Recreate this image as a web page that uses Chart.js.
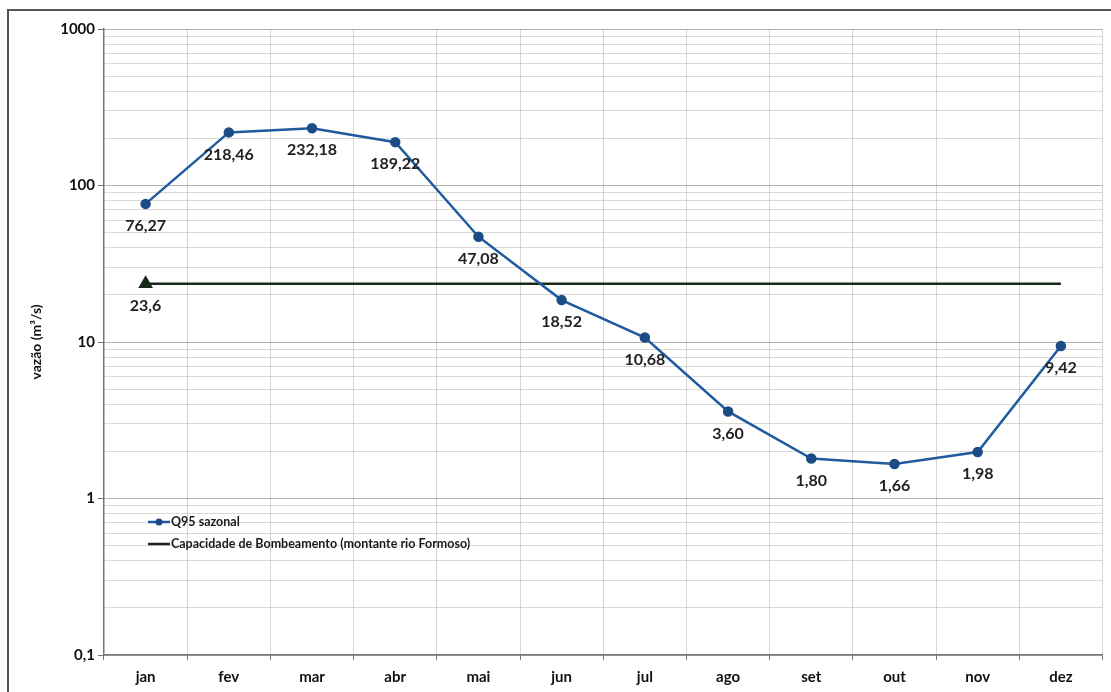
<!DOCTYPE html>
<html>
<head>
<meta charset="utf-8">
<script src="https://cdn.jsdelivr.net/npm/chart.js@4/dist/chart.umd.min.js"></script>
<style>
  html, body { margin: 0; padding: 0; background: #fff; overflow: hidden; }
  #wrap { position: relative; width: 1111px; height: 692px; overflow: hidden; }
  #frame { position: absolute; left: 7px; top: 9px; width: 1200px; height: 800px;
           border: 2px solid #555; box-sizing: border-box; }
  canvas { position: absolute; left: 0; top: 0; }
</style>
</head>
<body>
<div id="wrap">
  <div id="frame"></div>
  <canvas id="chart" width="1111" height="692"></canvas>
</div>
<script>
// Meses
const months = ['jan', 'fev', 'mar', 'abr', 'mai', 'jun', 'jul', 'ago', 'set', 'out', 'nov', 'dez'];

// Q95 sazonal (m³/s)
const q95 = [76.27, 218.46, 232.18, 189.22, 47.08, 18.52, 10.68, 3.60, 1.80, 1.66, 1.98, 9.42];

// Capacidade de bombeamento (montante rio Formoso), m³/s
const capacidade = [23.6, 23.6, 23.6, 23.6, 23.6, 23.6, 23.6, 23.6, 23.6, 23.6, 23.6, 23.6];

// Eixo Y (logarítmico)
const yTickValues = [0.1, 1, 10, 100, 1000];
const yTickLabels = ['0,1', '1', '10', '100', '1000'];

const FONT = 'Lato, "Open Sans", "DejaVu Sans", sans-serif';
const BLUE = '#1f5b9e';
const BLUE_DARK = '#1b4c86';
const BLACK = '#1a2a1a';

const isDecade = v => Math.abs(Math.log10(v) - Math.round(Math.log10(v))) < 1e-9;

// rótulos de valor abaixo dos pontos
const valueLabels = {
  id: 'valueLabels',
  afterDatasetsDraw(chart) {
    const ctx = chart.ctx;
    ctx.save();
    ctx.font = 'bold 16px ' + FONT;
    ctx.fillStyle = '#222';
    ctx.textAlign = 'center';
    ctx.textBaseline = 'middle';
    chart.data.datasets.forEach((ds, di) => {
      const meta = chart.getDatasetMeta(di);
      meta.data.forEach((pt, i) => {
        if (ds.labelIndices && !ds.labelIndices.includes(i)) return;
        const txt = ds.data[i].toFixed(ds.decimals).replace('.', ',');
        ctx.fillText(txt, pt.x, pt.y + 22);
      });
    });
    ctx.restore();
  }
};

// legenda dentro da área do gráfico
const innerLegend = {
  id: 'innerLegend',
  afterDraw(chart) {
    const ctx = chart.ctx;
    const x0 = 148, x1 = 170, tx = 171;
    const rows = [522, 544];
    ctx.save();
    ctx.font = 'bold 12.5px ' + FONT;
    ctx.textBaseline = 'middle';
    ctx.textAlign = 'left';
    chart.data.datasets.forEach((ds, i) => {
      const y = rows[i];
      ctx.strokeStyle = ds.borderColor;
      ctx.lineWidth = 2.5;
      ctx.beginPath(); ctx.moveTo(x0, y); ctx.lineTo(x1, y); ctx.stroke();
      if (i === 0) {
        ctx.fillStyle = BLUE_DARK;
        ctx.beginPath(); ctx.arc((x0 + x1) / 2, y, 3.5, 0, Math.PI * 2); ctx.fill();
      }
      ctx.fillStyle = '#1a1a1a';
      ctx.fillText(ds.label, tx, y);
    });
    ctx.restore();
  }
};

new Chart(document.getElementById('chart'), {
  type: 'line',
  data: {
    labels: months,
    datasets: [
      {
        label: 'Q95 sazonal',
        data: q95,
        borderColor: BLUE,
        backgroundColor: BLUE_DARK,
        pointBackgroundColor: BLUE_DARK,
        pointBorderColor: BLUE_DARK,
        borderWidth: 2.5,
        pointRadius: 4,
        tension: 0,
        decimals: 2
      },
      {
        label: 'Capacidade de Bombeamento (montante rio Formoso)',
        data: capacidade,
        borderColor: BLACK,
        backgroundColor: BLACK,
        pointBackgroundColor: BLACK,
        pointBorderColor: BLACK,
        borderWidth: 2.5,
        pointStyle: 'triangle',
        pointRadius: ctx => (ctx.dataIndex === 0 ? 6 : 0),
        tension: 0,
        decimals: 1,
        labelIndices: [0]
      }
    ]
  },
  options: {
    responsive: false,
    animation: false,
    events: [],
    layout: { padding: { left: 0, right: 4, top: 29, bottom: 0 } },
    plugins: { legend: { display: false }, tooltip: { enabled: false } },
    scales: {
      x: {
        type: 'category',
        offset: true,
        grid: {
          offset: true,
          color: 'rgba(0,0,0,0.16)',
          tickColor: '#777',
          tickLength: 5
        },
        border: { color: '#777', width: 1.5 },
        ticks: {
          color: '#111',
          padding: 8,
          font: { family: FONT, size: 15, weight: 'bold' },
          maxRotation: 0
        },
        afterFit(s) { s.height = 37; }
      },
      y: {
        type: 'logarithmic',
        min: yTickValues[0],
        max: yTickValues[yTickValues.length - 1],
        afterBuildTicks(s) {
          const ticks = [];
          for (let d = 0; d < yTickValues.length - 1; d++) {
            for (let m = 1; m <= 9; m++) ticks.push({ value: yTickValues[d] * m });
          }
          ticks.push({ value: yTickValues[yTickValues.length - 1] });
          s.ticks = ticks;
        },
        grid: {
          color: c => (c.tick && isDecade(c.tick.value) ? 'rgba(0,0,0,0.30)' : 'rgba(0,0,0,0.15)'),
          tickColor: c => (c.tick && isDecade(c.tick.value) ? '#777' : 'rgba(0,0,0,0)'),
          tickLength: 6
        },
        border: { color: '#777', width: 1.5 },
        ticks: {
          autoSkip: false,
          color: '#111',
          padding: 3,
          font: { family: FONT, size: 15, weight: 'bold' },
          callback: v => {
            const i = yTickValues.findIndex(t => Math.abs(t - v) / t < 1e-9);
            return i >= 0 ? yTickLabels[i] : '';
          }
        },
        title: {
          display: true,
          text: 'vazão (m³/s)',
          color: '#111',
          font: { family: FONT, size: 14, weight: 'bold' },
          padding: { top: 28, bottom: 0 }
        },
        afterFit(s) { s.width = 104; }
      }
    }
  },
  plugins: [valueLabels, innerLegend]
});
</script>
</body>
</html>
